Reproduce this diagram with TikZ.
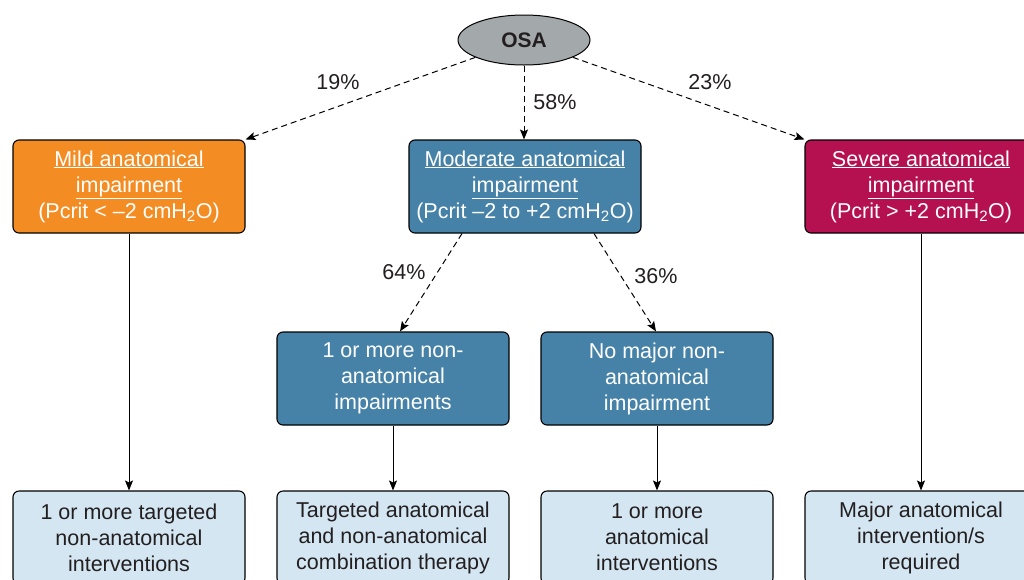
\documentclass[tikz,border=0pt]{standalone}
\usepackage{fontspec}
\setmainfont{Liberation Sans}
\usetikzlibrary{arrows.meta,shapes.geometric}
\definecolor{cmild}{RGB}{243,140,34}
\definecolor{cmod}{RGB}{70,130,168}
\definecolor{csev}{RGB}{181,16,80}
\definecolor{clight}{RGB}{212,230,242}
\definecolor{cgray}{RGB}{163,168,171}
\definecolor{ctext}{RGB}{35,31,32}
\tikzset{
  box/.style={draw=black, line width=1.1pt, rounded corners=6pt, minimum width=232pt, minimum height=93pt, align=center, inner sep=0pt, font=\fontsize{21.5}{26}\selectfont},
  topbox/.style={box, text=white},
  midbox/.style={box, fill=cmod, text=white},
  endbox/.style={box, fill=clight, text=ctext},
  dasharrow/.style={line width=1pt, dash pattern=on 6pt off 4pt, -{Stealth[length=10pt,width=8pt,inset=2pt]}},
  solarrow/.style={line width=1pt, -{Stealth[length=10pt,width=8pt,inset=2pt]}},
  pct/.style={text=ctext, font=\fontsize{21.5}{24}\selectfont, inner sep=0pt}
}
\begin{document}
\begin{tikzpicture}[x=1pt,y=-1pt]
\useasboundingbox (0,0) rectangle (1024,579);
\node[ellipse, draw=black, line width=1pt, fill=cgray, minimum width=132pt, minimum height=50pt, inner sep=0pt, font=\fontsize{21}{24}\selectfont\bfseries, text=ctext] (osa) at (524,40) {OSA};
\node[topbox, fill=cmild] (mild) at (129,186.5) {\underline{Mild anatomical}\\\underline{impairment}\\(Pcrit < –2 cmH\textsubscript{2}O)};
\node[topbox, fill=cmod] (mod) at (525,186.5) {\underline{Moderate anatomical}\\\underline{impairment}\\(Pcrit –2 to +2 cmH\textsubscript{2}O)};
\node[topbox, fill=csev] (sev) at (921,186.5) {\underline{Severe anatomical}\\\underline{impairment}\\(Pcrit > +2 cmH\textsubscript{2}O)};
\node[midbox] (n1) at (393,378.5) {1 or more non-\\anatomical\\impairments};
\node[midbox] (n2) at (657,378.5) {No major non-\\anatomical\\impairment};
\node[endbox] (e1) at (129,537.5) {1 or more targeted\\non-anatomical\\interventions};
\node[endbox] (e2) at (393,537.5) {Targeted anatomical\\and non-anatomical\\combination therapy};
\node[endbox] (e3) at (657,537.5) {1 or more\\anatomical\\interventions};
\node[endbox] (e4) at (921,537.5) {Major anatomical\\intervention/s\\required};
\draw[dasharrow] (osa) -- (mild.north east);
\draw[dasharrow] (osa) -- (mod.north -| osa);
\draw[dasharrow] (osa) -- (sev.north west);
\draw[dasharrow] ([xshift=-63pt]mod.south) -- ([xshift=7pt]n1.north);
\draw[dasharrow] ([xshift=69pt]mod.south) -- ([xshift=-1pt]n2.north);
\draw[solarrow] (mild) -- (e1);
\draw[solarrow] (n1) -- (e2);
\draw[solarrow] (n2) -- (e3);
\draw[solarrow] (sev) -- (e4);
\node[pct] (p19) at (338,82) {19\%};
\node[pct] (p58) at (555,102) {58\%};
\node[pct] (p23) at (710,82) {23\%};
\node[pct] (p64) at (404,272) {64\%};
\node[pct] (p36) at (656,276) {36\%};
\end{tikzpicture}
\end{document}
